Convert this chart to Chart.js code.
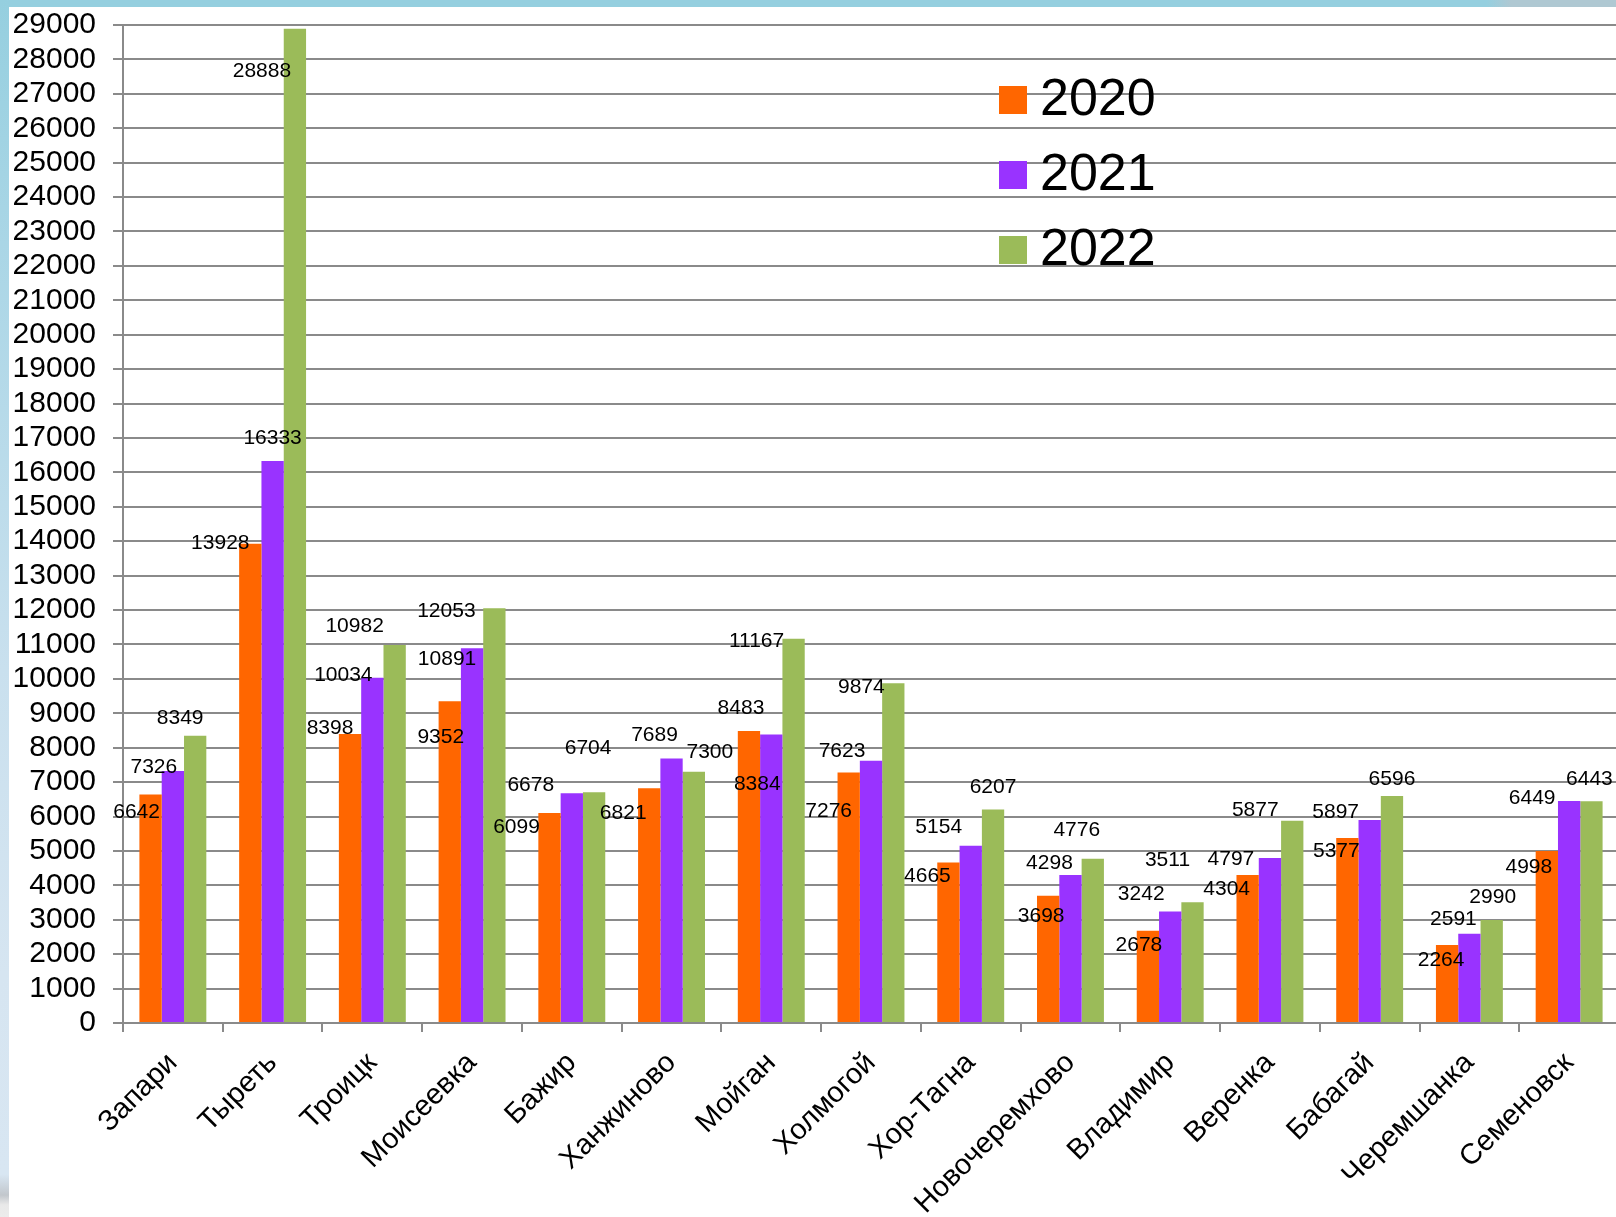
<!DOCTYPE html>
<html>
<head>
<meta charset="utf-8">
<script src="https://cdn.jsdelivr.net/npm/chart.js@4.4.1/dist/chart.umd.min.js"></script>
<style>
html,body{margin:0;padding:0;width:1616px;height:1217px;overflow:hidden;background:#ffffff;}
#topband{position:absolute;left:0;top:0;width:1616px;height:7px;background:linear-gradient(90deg,#95cfdf 0%,#95cfdf 92%,#afc8d2 93.5%,#afc8d2 100%);}
#leftband{position:absolute;left:0;top:0;width:9px;height:1217px;background:linear-gradient(180deg,#95cfdf 0%,#aad6e6 20%,#c9e0ee 55%,#d6e5f1 80%,#d8e6f2 96.5%,#c2c7cc 98.2%,#e9e9e9 99%,#ececec 100%);}
#wrap{position:absolute;left:0;top:0;width:1619px;height:1217px;}
</style>
</head>
<body>
<div id="topband"></div>
<div id="leftband"></div>
<div id="wrap"><canvas id="c" width="1619" height="1217"></canvas></div>
<script>
const categories = ['Запари','Тыреть','Троицк','Моисеевка','Бажир','Ханжиново','Мойган','Холмогой','Хор-Тагна','Новочеремхово','Владимир','Веренка','Бабагай','Черемшанка','Семеновск'];
const seriesNames = ['2020','2021','2022'];
const values2020 = [6642,13928,8398,9352,6099,6821,8483,7276,4665,3698,2678,4304,5377,2264,4998];
const values2021 = [7326,16333,10034,10891,6678,7689,8384,7623,5154,4298,3242,4797,5897,2591,6449];
const values2022 = [8349,28888,10982,12053,6704,7300,11167,9874,6207,4776,3511,5877,6596,2990,6443];
const yMin = 0;
const yMax = 29000;
const yStep = 1000;

const FONT = "'Liberation Sans', Arial, sans-serif";
const colors = ['#FF6600','#9933FF','#9BBB59'];

const valueLabels = {
  id: 'valueLabels',
  afterDatasetsDraw(chart, args, opts) {
    const ctx = chart.ctx;
    ctx.save();
    ctx.font = opts.size + 'px ' + FONT;
    ctx.fillStyle = '#000';
    ctx.textAlign = 'center';
    ctx.textBaseline = 'middle';
    chart.data.datasets.forEach((ds, di) => {
      const meta = chart.getDatasetMeta(di);
      meta.data.forEach((bar, i) => {
        const off = opts.offsets[di][i];
        ctx.fillText(String(ds.data[i]), bar.x + off[0], bar.y + off[1]);
      });
    });
    ctx.restore();
  }
};

const boxLegend = {
  id: 'boxLegend',
  afterDraw(chart, args, opts) {
    const ctx = chart.ctx;
    ctx.save();
    ctx.font = opts.size + 'px ' + FONT;
    ctx.textAlign = 'left';
    ctx.textBaseline = 'middle';
    chart.data.datasets.forEach((ds, i) => {
      const cy = opts.y + i * opts.step;
      ctx.fillStyle = ds.backgroundColor;
      ctx.fillRect(opts.x, cy - opts.box / 2, opts.box, opts.box);
      ctx.fillStyle = '#000';
      ctx.fillText(ds.label, opts.x + opts.box + 13, cy + 1);
    });
    ctx.restore();
  }
};

const allValues = [values2020, values2021, values2022];

new Chart(document.getElementById('c'), {
  type: 'bar',
  data: {
    labels: categories,
    datasets: seriesNames.map((name, i) => ({
      label: name,
      data: allValues[i],
      backgroundColor: colors[i],
      borderWidth: 0,
      barPercentage: 1.0,
      categoryPercentage: 0.671
    }))
  },
  plugins: [valueLabels, boxLegend],
  options: {
    responsive: false,
    animation: false,
    devicePixelRatio: 1,
    layout: { padding: { top: 25, left: 0, right: 0, bottom: 0 } },
    plugins: {
      legend: { display: false },
      tooltip: { enabled: false },
      valueLabels: {
        size: 21,
        offsets: [
          [[-14,18],[-30,0],[-20,-6],[-9,36],[-33,14],[-26,25],[-8,-23],[-20,39],[-21,14],[-7,20],[-9,14],[-21,14],[-11,13],[-6,15],[-18,16]],
          [[-19,-4],[0,-23],[-29,-2],[-25,11],[-41,-8],[-17,-23],[-14,50],[-29,-9],[-32,-18],[-21,-12],[-29,-17],[-39,1],[-34,-8],[-16,-15],[-37,-3]],
          [[-15,-17],[-33,42],[-40,-19],[-48,3],[-6,-44],[16,-20],[-37,3],[-32,4],[0,-22],[-16,-28],[-25,-42],[-37,-11],[0,-17],[1,-23],[-2,-22]]
        ]
      },
      boxLegend: { x: 999, y: 100, step: 75, box: 28, size: 52 }
    },
    scales: {
      x: {
        grid: { display: true, drawOnChartArea: false, drawTicks: true, tickLength: 9, color: '#8a8a8a', lineWidth: 2, offset: true },
        border: { display: true, color: '#8a8a8a', width: 2 },
        ticks: { color: '#000', font: { family: FONT, size: 29 }, minRotation: 45, maxRotation: 45, autoSkip: false, padding: 14 },
        afterFit(s) { s.height = 194; s.paddingLeft = 0; s.paddingRight = 0; }
      },
      y: {
        min: yMin, max: yMax,
        grid: { color: '#8a8a8a', lineWidth: 2, tickLength: 10 },
        border: { display: true, color: '#8a8a8a', width: 2 },
        ticks: { stepSize: yStep, autoSkip: false, color: '#000', font: { family: FONT, size: 30 }, padding: 17,
                 callback: (v) => String(v) },
        afterFit(s) { s.width = 123; s.paddingTop = 0; s.paddingBottom = 0; }
      }
    }
  }
});
</script>
</body>
</html>
